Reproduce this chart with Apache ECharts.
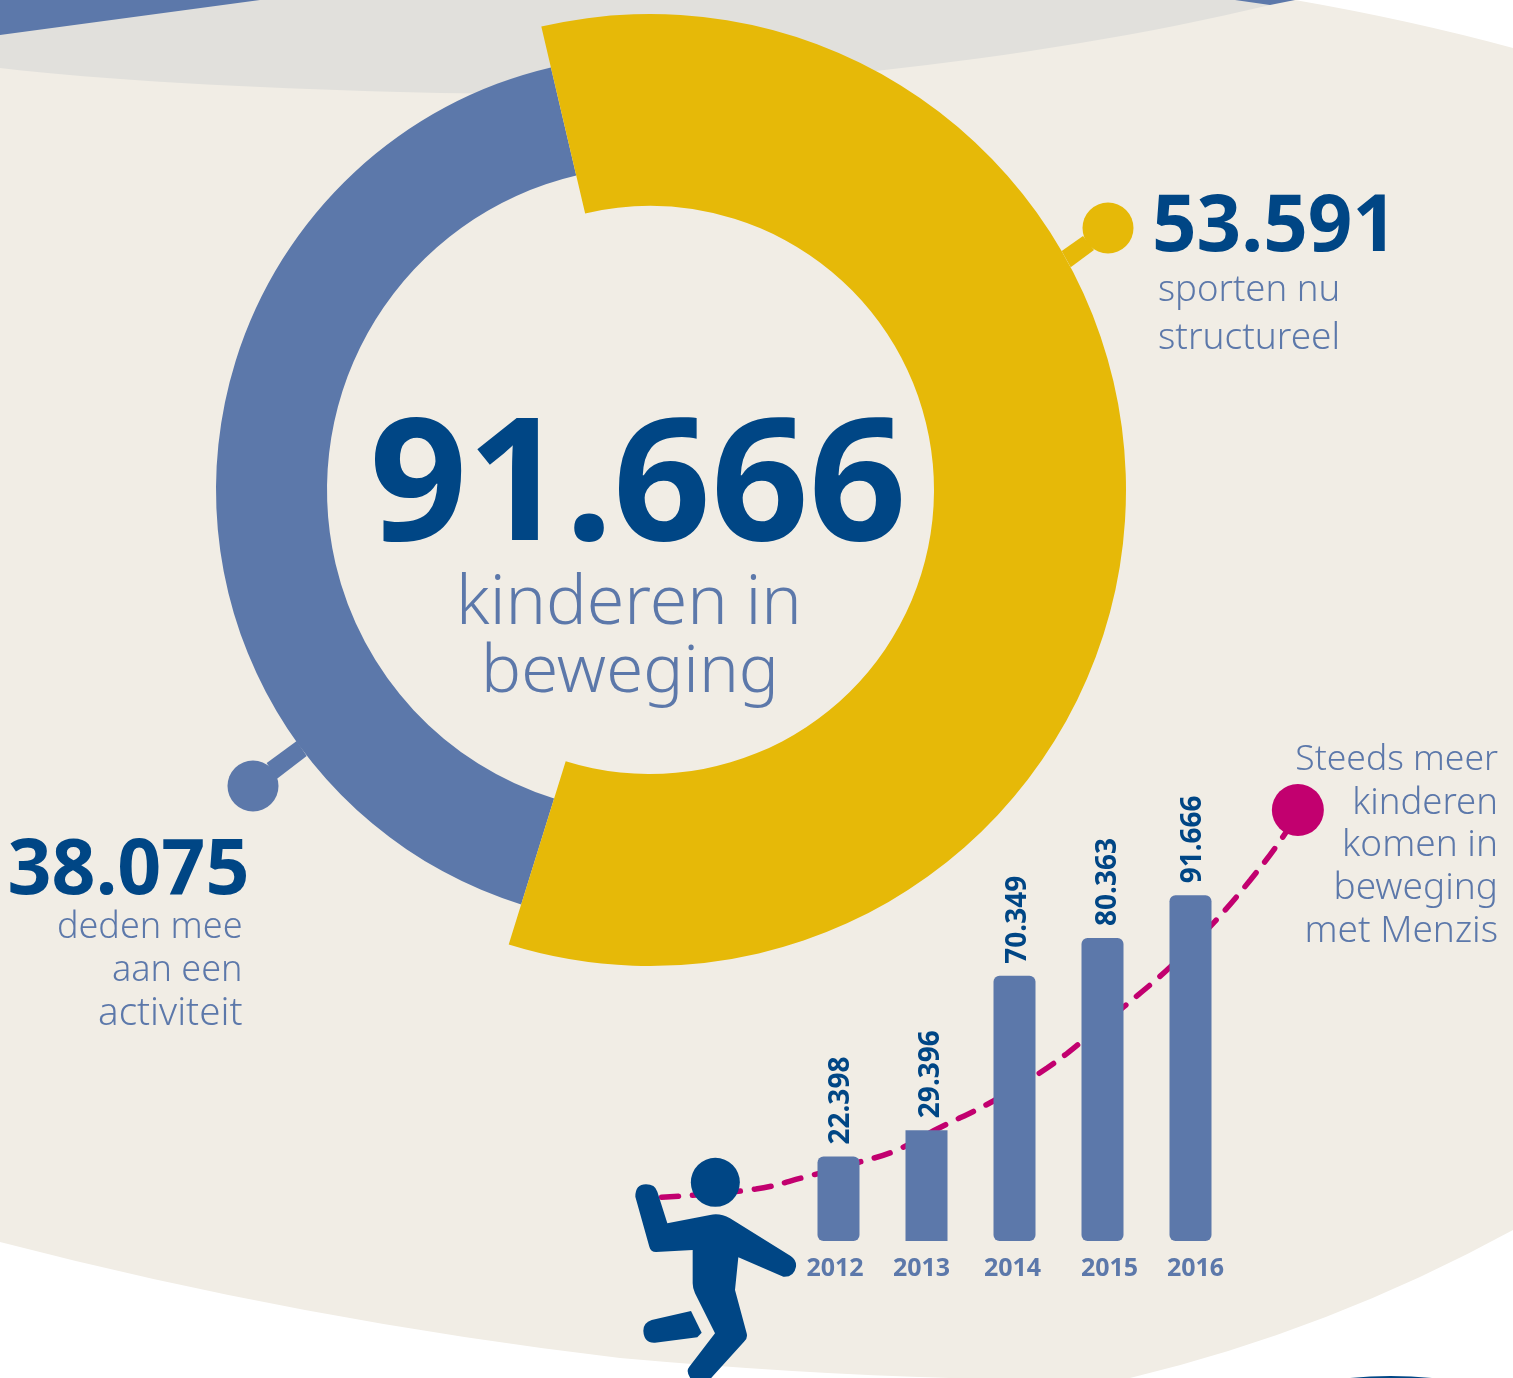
<!DOCTYPE html>
<html><head><meta charset="utf-8">
<style>html,body{margin:0;padding:0;background:#fff}#c{width:1513px;height:1378px}</style>
<script src="https://cdn.jsdelivr.net/npm/echarts@6/dist/echarts.min.js"></script>
</head><body><div id="c"></div>
<script>
const years = ['','','2012','2013','2014','2015','2016',''];
const barValues = [null,null,22398,29396,70349,80363,91666,null];
const barLabels = ['','','22.398','29.396','70.349','80.363','91.666',''];
const sportNames = ['sporten nu structureel','deden mee aan een activiteit'];
const sportValues = [53591,38075];
const trendX = [2009.99,2011.06,2011.62,2012.24,2012.64,2013.12,2013.76,2014.37,2014.80,2015.24,2015.77,2016.24,2016.68,2017.08,2017.22];
const trendY = [11590,13790,16970,20950,23870,29700,37130,45880,53570,62060,72660,83800,95740,108200,114300];

const NAVY='#004685', BLUE='#5c78aa', YELLOW='#e6b908', PINK='#c2006f', BEIGE='#f1ede5', GRAY='#e1e0dc';
const LIGHT="'Noto Sans'";
const sq=[0,0,0,0], rd=[6,6,6,6];

let shapeCount=0;
function pathEl(d,fill,z){
  const name='decor'+(shapeCount++);
  echarts.graphic.registerShape(name,echarts.graphic.extendPath(d,{}));
  return {type:name,z:z||0,style:{fill:fill}};
}
function txt(t,x,y,size,color,align,weight){
  return {type:'text',z:20,x:x,y:y,style:{text:t,fontFamily:LIGHT,fontSize:size,fontWeight:weight,fill:color,align:align,verticalAlign:'middle'}};
}
function pie(radius,idx,color){
  return {type:'pie',center:[650,490],radius:radius,startAngle:103.2,silent:true,label:{show:false},labelLine:{show:false},
    emphasis:{disabled:true},
    data:sportValues.map((v,i)=>({value:v,name:sportNames[i],itemStyle:{color:i===idx?color:'transparent'}}))};
}
const graphics=[
 pathEl('M0 0 L1295 0 Q1410 20 1513 48 L1513 1230 Q1330 1330 1130 1378 L950 1378 Q800 1374 620 1358 Q300 1320 0 1242 Z',BEIGE),
 pathEl('M0 0 L1270 0 L1270 5 C1000 70 650 100 400 92 C250 88 100 80 0 68 Z',GRAY),
 pathEl('M0 0 L260 0 L0 35 Z M1235 0 L1295 0 L1270 5 Z',BLUE),
 pathEl('M1350 1378 Q1390 1374 1432 1378 Z',NAVY),
 pathEl('M1061.7 251 L1083 236 L1094 250 L1070.7 267.3 Z',YELLOW),
 {type:'circle',z:0,shape:{cx:1108,cy:228,r:25.5},style:{fill:YELLOW}},
 pathEl('M296.7 741 L266.7 763 L276.7 779 L306.7 756 Z',BLUE),
 {type:'circle',z:0,shape:{cx:253,cy:786,r:25.5},style:{fill:BLUE}},
 txt('91.666',638,491,171,NAVY,'center','bold'),
 txt('kinderen in',629,605,68,BLUE,'center',300),
 txt('beweging',630,673,67,BLUE,'center',300),
 txt('53.591',1274.5,229,78,NAVY,'center','bold'),
 txt('sporten nu',1158,290.5,36.5,BLUE,'left',300),
 txt('structureel',1158,338,37,BLUE,'left',300),
 txt('38.075',128.5,872,77,NAVY,'center','bold'),
 txt('deden mee',242.5,927.5,36,BLUE,'right',300),
 txt('aan een',242.5,970.5,36,BLUE,'right',300),
 txt('activiteit',242.5,1014.5,38.5,BLUE,'right',300),
 txt('Steeds meer',1498,760,35.5,BLUE,'right',300),
 txt('kinderen',1498,804,36.5,BLUE,'right',300),
 txt('komen in',1498,845,37,BLUE,'right',300),
 txt('beweging',1498,888,37,BLUE,'right',300),
 txt('met Menzis',1498,931,37,BLUE,'right',300),
 {type:'group',x:620,y:1040,scaleX:1/3,scaleY:1/3,children:[
   {type:'circle',z:30,shape:{cx:286,cy:427,r:73.5},style:{fill:NAVY}},
   pathEl('M46 470 Q46 433 78 433 Q105 433 112 455 L142 550 L270 525 Q300 518 330 535 L512 648 Q530 660 528 680 Q522 712 490 710 L355 652 L345 750 L380 880 Q384 895 372 905 L250 1040 L215 1020 Q195 995 208 980 L285 880 L225 760 Q218 745 218 730 L218 630 L108 636 Q92 636 88 620 Z',NAVY,30),
   pathEl('M213 813 L245 878 L232 892 L105 908 Q72 910 70 872 Q70 848 95 840 Z',NAVY,30)
 ]}
];
const labelShift=[0,0,7,10,4,-14,-10,0];
const labelNudge=[0,0,3,5,4,6,3,0];
const option={
  animation:false,
  backgroundColor:'#ffffff',
  graphic:{elements:graphics},
  grid:{left:618.5,top:788.5,width:704,height:452.5},
  xAxis:[
   {type:'category',data:years.map((y,i)=>({value:y,textStyle:{padding:labelShift[i]>0?[0,labelShift[i],0,0]:[0,0,0,-labelShift[i]]}})),
    axisLine:{show:false},axisTick:{show:false},
    axisLabel:{color:BLUE,fontFamily:LIGHT,fontWeight:'bold',fontSize:25,margin:15,interval:0}},
   {type:'value',min:2009.5,max:2017.5,show:false}
  ],
  yAxis:{type:'value',min:0,max:120000,show:false,splitLine:{show:false}},
  series:[
   pie(['323','434'],1,BLUE),
   pie(['284','476'],0,YELLOW),
   {type:'line',xAxisIndex:1,smooth:0.4,clip:false,z:3,silent:true,
    data:trendX.map((x,i)=>({value:[x,trendY[i]],symbol:i===trendX.length-1?'circle':'none',symbolSize:52,itemStyle:{color:PINK}})),
    showSymbol:true,showAllSymbol:true,
    lineStyle:{color:PINK,width:5.5,type:[17,14],cap:'round'}},
   {type:'bar',z:4,barWidth:42,silent:true,
    data:barValues.map((v,i)=>({value:v,itemStyle:{color:BLUE,borderRadius:i===3?sq:rd},
      label:{formatter:barLabels[i],offset:[0,labelNudge[i]]}})),
    label:{show:true,position:'top',rotate:90,distance:12,align:'left',verticalAlign:'middle',color:NAVY,fontFamily:LIGHT,fontWeight:'bold',fontSize:28}}
  ]
};
echarts.init(document.getElementById('c'),null,{renderer:'canvas'}).setOption(option);
</script></body></html>
